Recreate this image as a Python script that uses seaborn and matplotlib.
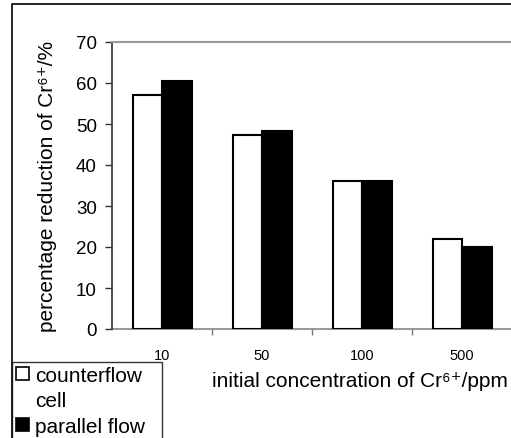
import matplotlib
matplotlib.use("Agg")
import matplotlib.pyplot as plt
import seaborn as sns
import pandas as pd
from matplotlib.patches import Rectangle, Patch

categories = ["10", "50", "100", "500"]
series_names = ["counterflow", "parallel flow"]
counterflow = [57, 47.2, 36, 22]
parallel_flow = [60.5, 48.2, 36, 20]

df = pd.DataFrame({
    "conc": categories * 2,
    "value": counterflow + parallel_flow,
    "series": [series_names[0]] * 4 + [series_names[1]] * 4,
})

sns.set_style("white")
plt.rcParams["font.family"] = ["Liberation Sans", "DejaVu Sans"]
plt.rcParams["text.color"] = "black"
plt.rcParams["axes.labelcolor"] = "black"

W, H = 511, 439
fig = plt.figure(figsize=(W / 100, H / 100), dpi=100)
ax = fig.add_axes([112 / W, 1 - 330 / H, 400 / W, 287 / H])

sns.barplot(data=df, x="conc", y="value", hue="series", order=categories,
            hue_order=series_names, palette=["white", "black"],
            edgecolor="black", linewidth=1.5, width=0.59, ax=ax, legend=False)

ax.set_xlim(-0.5, 3.5)
ax.set_ylim(0, 70)
ax.set_yticks(range(0, 71, 10))
ax.tick_params(axis="y", which="major", direction="out", length=5, width=1,
               color="#333333", pad=6, labelsize=13.5, left=True,
               labelcolor="black")
ax.tick_params(axis="x", which="major", length=0, pad=14, labelsize=10.5,
               labelcolor="black")
ax.set_xticks([0.5, 1.5, 2.5], minor=True)
ax.tick_params(axis="x", which="minor", direction="out", length=4, width=1,
               color="#777777", bottom=True)

for s in ["top", "bottom"]:
    ax.spines[s].set_color("#999999")
    ax.spines[s].set_linewidth(1.5)
ax.spines["right"].set_visible(False)
ax.spines["left"].set_color("#333333")
ax.spines["left"].set_linewidth(1.2)
ax.spines["bottom"].set_zorder(0)

ax.set_xlabel("initial concentration of Cr⁶⁺/ppm", fontsize=15,
              va="center", ha="center")
ax.xaxis.set_label_coords(0.62, -0.181)
ax.set_ylabel("percentage reduction of Cr⁶⁺/%", fontsize=15)
ax.yaxis.set_label_coords(-0.1375, 0.5)

# outer frame
fig.patches.append(Rectangle((12 / W, -0.1), 1.2, 1 - 5 / H + 0.1,
                             transform=fig.transFigure, fill=False,
                             edgecolor="black", linewidth=1.2, zorder=-1))

handles = [Patch(facecolor="white", edgecolor="black", linewidth=1.2),
           Patch(facecolor="none", edgecolor="none"),
           Patch(facecolor="black", edgecolor="black", linewidth=1.2)]
labels = ["counterflow", "cell", "parallel flow"]
leg = fig.legend(handles, labels, loc="upper left",
                 bbox_to_anchor=(12 / W, 0, 150 / W, 1 - 363 / H),
                 mode="expand", frameon=True, fancybox=False, fontsize=15,
                 handlelength=0.6, handleheight=0.6, handletextpad=0.3,
                 borderpad=0.2, borderaxespad=0, labelspacing=0.3)
leg.get_frame().set_edgecolor("black")
leg.get_frame().set_linewidth(1.0)

fig.savefig("out.png", dpi=100)
